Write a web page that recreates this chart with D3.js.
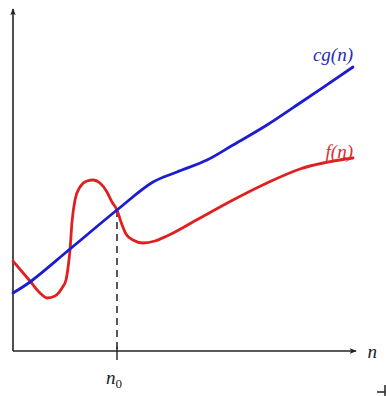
<!DOCTYPE html>
<html>
<head>
<meta charset="utf-8">
<script src="https://cdn.jsdelivr.net/npm/d3@7"></script>
<style>
  body { margin: 0; background: #fff; }
</style>
</head>
<body>
<div id="chart"></div>
<script>
var W = 386, H = 396;
var serif = "'Liberation Serif', 'Times New Roman', 'DejaVu Serif', serif";

// curve samples (n, value)
var cgN   = [0, 17, 57, 104, 140, 164, 194, 220, 254, 287, 340];
var cgVal = [58, 69, 102, 141, 169, 179, 191, 206, 226, 248, 284];

var fN   = [0, 17, 27, 34, 42, 49, 53, 55, 57, 59, 62, 67, 74, 80, 87, 94, 99, 104, 108, 113, 120, 130, 142, 154, 187, 220, 254, 287, 340];
var fVal = [90, 70, 58, 53, 55, 63, 71, 83, 101, 129, 151, 164, 170, 171, 168, 159, 149, 141, 129, 117, 111, 108, 110, 115, 133, 151, 168, 182, 193];

var n0 = 104, n0Val = 141;

var x = d3.scaleLinear().domain([0, 342]).range([13, 355]);
var y = d3.scaleLinear().domain([0, 341]).range([351, 10]);

var svg = d3.select("#chart").append("svg")
    .attr("width", W)
    .attr("height", H);

var defs = svg.append("defs");
defs.append("marker")
    .attr("id", "arrow")
    .attr("viewBox", "0 0 10 10")
    .attr("refX", 9).attr("refY", 5)
    .attr("markerWidth", 7).attr("markerHeight", 7)
    .attr("markerUnits", "userSpaceOnUse")
    .attr("orient", "auto")
    .append("path")
    .attr("d", "M0,1 L10,5 L0,9 L2.5,5 Z")
    .attr("fill", "#222");

// axes
svg.append("line")
    .attr("x1", x(0)).attr("y1", y(0))
    .attr("x2", x(342) + 1).attr("y2", y(0))
    .attr("stroke", "#222").attr("stroke-width", 1.6)
    .attr("marker-end", "url(#arrow)");

svg.append("line")
    .attr("x1", x(0)).attr("y1", y(0))
    .attr("x2", x(0)).attr("y2", y(341) - 1)
    .attr("stroke", "#222").attr("stroke-width", 1.6)
    .attr("marker-end", "url(#arrow)");

// n0 dashed guide + tick
svg.append("line")
    .attr("x1", x(n0)).attr("y1", y(n0Val))
    .attr("x2", x(n0)).attr("y2", y(0))
    .attr("stroke", "#222").attr("stroke-width", 1.5)
    .attr("stroke-dasharray", "7 5");

svg.append("line")
    .attr("x1", x(n0)).attr("y1", y(0) - 4)
    .attr("x2", x(n0)).attr("y2", y(0) + 9)
    .attr("stroke", "#222").attr("stroke-width", 1.4);

var line = d3.line()
    .x(function(d) { return x(d[0]); })
    .y(function(d) { return y(d[1]); })
    .curve(d3.curveMonotoneX);

svg.append("path")
    .datum(fN.map(function(n, i) { return [n, fVal[i]]; }))
    .attr("d", line)
    .attr("fill", "none")
    .attr("stroke", "#e02020")
    .attr("stroke-width", 2.8)
    .attr("stroke-linecap", "round");

svg.append("path")
    .datum(cgN.map(function(n, i) { return [n, cgVal[i]]; }))
    .attr("d", line.curve(d3.curveCatmullRom.alpha(0.5)))
    .attr("fill", "none")
    .attr("stroke", "#1c1cd0")
    .attr("stroke-width", 2.8)
    .attr("stroke-linecap", "round");

// labels
function label(tx, ty, txt, color) {
  return svg.append("text")
    .attr("x", tx).attr("y", ty)
    .attr("text-anchor", "end")
    .style("font-family", serif)
    .style("font-style", "italic")
    .style("font-size", "19px")
    .style("fill", color)
    .text(txt);
}
label(353, 61, "cg(n)", "#2a2ac0");
label(353, 158, "f(n)", "#d83030");
label(377, 358, "n", "#222");

var n0Label = svg.append("text")
    .attr("x", x(n0) - 11).attr("y", 384)
    .style("font-family", serif)
    .style("font-style", "italic")
    .style("font-size", "19px")
    .style("fill", "#222")
    .text("n");
n0Label.append("tspan")
    .attr("dy", 4)
    .style("font-size", "13px")
    .style("font-style", "normal")
    .text("0");

// little corner mark bottom right
svg.append("path")
    .attr("d", "M377,392 L385,392 M385,385 L385,396")
    .attr("stroke", "#222").attr("stroke-width", 1.5)
    .attr("fill", "none");
</script>
</body>
</html>
